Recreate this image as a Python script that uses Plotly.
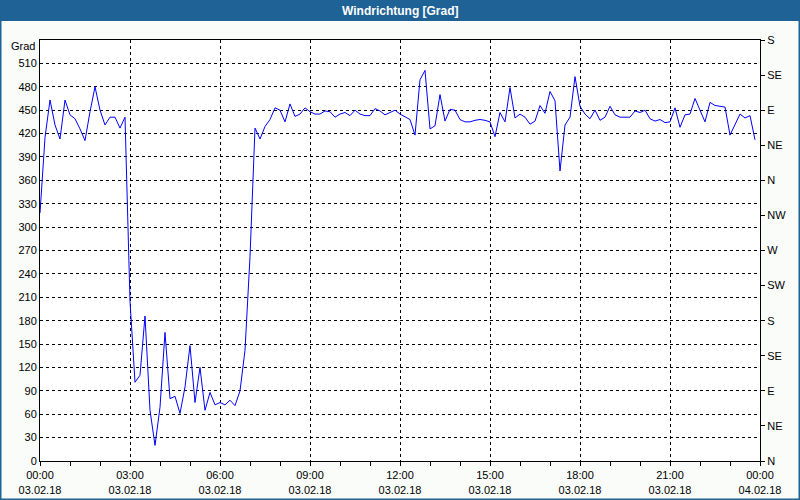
import plotly.graph_objects as go
import pandas as pd

# Wind direction every 10 minutes, 03.02.18 00:00 .. 23:50
direction = [
    318, 415, 463, 431, 413, 463, 444, 439, 426, 411, 448, 480, 450, 431, 441, 441, 427, 441,
    205, 101, 110, 186, 65, 20, 69, 165, 80, 83, 61, 95, 148, 75, 120, 65, 88, 72,
    75, 72, 78, 71, 90, 142, 262, 427, 413, 429, 438, 453,
    450, 435, 458, 442, 445, 453, 448, 445, 445, 449, 448, 441, 445, 447, 443, 450, 445, 443,
    443, 452, 449, 444, 447, 450, 445, 442, 438, 418, 489, 501, 426, 430, 470, 436, 451, 450,
    438, 435, 435, 437, 438, 437, 435, 416, 447, 435, 479, 440,
    445, 441, 432, 436, 456, 446, 474, 462, 372, 431, 441, 493, 455, 445, 439, 450, 437, 441,
    455, 444, 441, 441, 441, 449, 447, 450, 439, 436, 438, 434, 435, 453, 428, 444, 445, 465,
    449, 435, 460, 456, 455, 454, 418, 432, 445, 440, 443, 412,
]
times = pd.date_range("2018-02-03 00:00", periods=len(direction), freq="10min")

left_ticks = list(range(0, 540, 30))
right_ticks = list(range(0, 541, 45))
right_labels = ["N", "NE", "E", "SE", "S", "SW", "W", "NW", "N", "NE", "E", "SE", "S"]
x_ticks = pd.date_range("2018-02-03 00:00", "2018-02-04 00:00", freq="3h")
x_labels = [t.strftime("%H:%M") + "<br>" + t.strftime("%d.%m.%y") for t in x_ticks]

FONT = "Liberation Sans"
W, H = 800, 500
L, R, T, B = 40, 40, 40, 39
pw, ph = W - L - R, H - T - B

fig = go.Figure()
fig.add_trace(go.Scatter(x=times, y=direction, mode="lines",
                         line=dict(color="#0000ff", width=1),
                         showlegend=False, hoverinfo="x+y"))
fig.add_trace(go.Scatter(x=times, y=direction, mode="lines", yaxis="y2",
                         line=dict(color="rgba(0,0,0,0)", width=0),
                         showlegend=False, hoverinfo="skip"))

def px_x(p):
    return (p - L) / pw

def px_y(p):
    return 1 - (p - T) / ph

shapes = [
    # title bar
    dict(type="rect", xref="paper", yref="paper", x0=px_x(0), x1=px_x(W), y0=px_y(21), y1=px_y(0),
         fillcolor="#1e6296", line=dict(width=0), layer="below"),
    # outer frame
    dict(type="rect", xref="paper", yref="paper", x0=px_x(0.75), x1=px_x(W - 0.75), y0=px_y(H - 0.75), y1=px_y(0.75),
         fillcolor="rgba(0,0,0,0)", line=dict(color="#1e6296", width=1.5)),
]

annotations = [
    dict(text="<b>Windrichtung [Grad]</b>", xref="paper", yref="paper", x=0.5, y=px_y(10.5),
         xanchor="center", yanchor="middle", showarrow=False,
         font=dict(family=FONT, size=12, color="white")),
    dict(text="Grad", xref="paper", yref="paper", x=px_x(37), y=px_y(46),
         xanchor="right", yanchor="middle", showarrow=False,
         font=dict(family=FONT, size=11, color="black")),
]

fig.update_layout(
    width=W, height=H,
    margin=dict(l=L, r=R, t=T, b=B, autoexpand=False),
    paper_bgcolor="#f9fcf9",
    plot_bgcolor="#ffffff",
    font=dict(family=FONT, size=11, color="black"),
    shapes=shapes,
    annotations=annotations,
    xaxis=dict(
        type="date",
        range=[x_ticks[0], x_ticks[-1]],
        tickmode="array", tickvals=list(x_ticks), ticktext=x_labels,
        ticks="outside", ticklen=4, tickcolor="black",
        minor=dict(dtick=3600000, tick0="2018-02-03 00:00", ticks="outside", ticklen=4,
                   tickcolor="black", showgrid=False),
        showgrid=True, gridcolor="black", griddash="3px,3px", gridwidth=1,
        showline=True, linecolor="black", linewidth=1, mirror=True,
        zeroline=False, tickangle=0, automargin=False,
        tickfont=dict(family=FONT, size=11, color="black"),
    ),
    yaxis=dict(
        range=[0, 540],
        tickmode="array", tickvals=left_ticks,
        ticks="", showgrid=True, gridcolor="black", griddash="3px,3px", gridwidth=1,
        showline=True, linecolor="black", linewidth=1, mirror=True,
        zeroline=False, automargin=False,
        tickfont=dict(family=FONT, size=11, color="black"),
    ),
    yaxis2=dict(
        range=[0, 540], overlaying="y", side="right",
        tickmode="array", tickvals=right_ticks, ticktext=right_labels,
        ticks="outside", ticklen=4, tickcolor="black",
        showgrid=False, zeroline=False, showline=False, automargin=False,
        tickfont=dict(family=FONT, size=11, color="black"),
    ),
)

fig.write_html("out.html",
               config={"displayModeBar": False},
               post_script="document.body.style.margin='0';document.body.style.padding='0';")
